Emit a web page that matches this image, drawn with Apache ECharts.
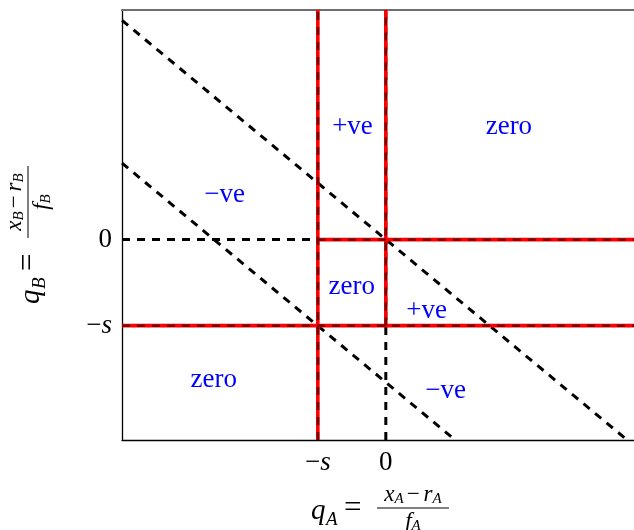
<!DOCTYPE html>
<html>
<head>
<meta charset="utf-8">
<script src="https://cdn.jsdelivr.net/npm/echarts@6/dist/echarts.min.js"></script>
<style>
  html, body { margin: 0; padding: 0; background: #fff; }
  #chart { width: 634px; height: 530px; }
</style>
</head>
<body>
<div id="chart"></div>
<script>
// axis ranges, in units of s
var xRange = [-3.88, 3.65];
var yRange = [-2.33, 2.67];
var tickValues = [-1, 0];
var tickLabels = ["{n|\u2212}{i|s}", "0"];

// black dashed boundaries
var hZero = [[-3.88, 0], [3.65, 0]];
var hMinusS = [[-3.88, -1], [3.65, -1]];
var vZero = [[0, -2.33], [0, 2.67]];
var vMinusS = [[-1, -2.33], [-1, 2.67]];
var diagUpper = [[-3.88, 2.55], [3.55, -2.33]];
var diagLower = [[-3.88, 0.89], [1.02, -2.33]];

// red solid boundaries
var redH0 = [[-1, 0], [3.65, 0]];
var redHS = [[-3.88, -1], [3.65, -1]];
var redV0 = [[0, -1], [0, 2.67]];
var redVS = [[-1, -2.33], [-1, 2.67]];

// region labels
var regionNames = ["+ve", "zero", "\u2212ve", "zero", "+ve", "zero", "\u2212ve"];
var regionX = [-0.49, 1.81, -2.37, -0.5, 0.6, -2.53, 0.88];
var regionY = [1.31, 1.31, 0.52, -0.55, -0.83, -1.63, -1.76];

var SERIF = '"Liberation Serif", "DejaVu Serif", serif';

function redLine(d) {
  return {
    type: "line", data: d, symbol: "none", z: 3, silent: true,
    lineStyle: { color: "#ff0000", width: 3.6 }
  };
}
function redDash(d) {
  return {
    type: "line", data: d, symbol: "none", z: 4, silent: true,
    lineStyle: { color: "#6a0000", width: 2.4, type: [8, 7] }
  };
}
function dashLine(d) {
  return {
    type: "line", data: d, symbol: "none", z: 2, silent: true,
    lineStyle: { color: "#000", width: 3, type: [8, 7] }
  };
}

// builds "q_X = (x_X - r_X) / f_X" as a group, fraction bar at local y = 0
function axisTitle(sub, x, y, rot) {
  var rich = {
    i: { fontFamily: SERIF, fontStyle: "italic", fontSize: 23, fill: "#000" },
    s: { fontFamily: SERIF, fontStyle: "italic", fontSize: 15, fill: "#000", padding: [10, 0, 0, 0] },
    n: { fontFamily: SERIF, fontSize: 23, fill: "#000", padding: [0, 4, 0, 3] }
  };
  return {
    type: "group", x: x, y: y, rotation: rot || 0,
    children: [
      { type: "text", x: 0, y: 3, style: { text: "q", font: "italic 29px " + SERIF, fill: "#000", textAlign: "left", textVerticalAlign: "middle" } },
      { type: "text", x: 15, y: 12, style: { text: sub, font: "italic 19px " + SERIF, fill: "#000", textAlign: "left", textVerticalAlign: "middle" } },
      { type: "text", x: 33, y: 1, style: { text: "=", font: "31px " + SERIF, fill: "#000", textAlign: "left", textVerticalAlign: "middle" } },
      { type: "text", x: 102, y: -1, style: { text: "{i|x}{s|" + sub + "}{n|\u2212}{i|r}{s|" + sub + "}", rich: rich, textAlign: "center", textVerticalAlign: "bottom" } },
      { type: "line", shape: { x1: 66, y1: 0, x2: 138, y2: 0 }, style: { stroke: "#000", lineWidth: 1 } },
      { type: "text", x: 102, y: 1, style: { text: "{i|f}{s|" + sub + "}", rich: rich, textAlign: "center", textVerticalAlign: "top" } }
    ]
  };
}

var chart = echarts.init(document.getElementById("chart"), null, { renderer: "canvas" });

var labelRich = {
  n: { fontFamily: SERIF, fontSize: 27, color: "#000" },
  i: { fontFamily: SERIF, fontSize: 27, fontStyle: "italic", color: "#000" }
};

var option = {
  animation: false,
  backgroundColor: "#fff",
  grid: { left: 122, right: 0, top: 10, bottom: 90 },
  xAxis: [
    {
      type: "value", min: xRange[0], max: xRange[1], position: "bottom",
      splitLine: { show: false }, axisTick: { show: false },
      axisLine: { onZero: false, lineStyle: { color: "#000", width: 1.3 } },
      axisLabel: {
        customValues: tickValues, margin: 9, color: "#000",
        fontFamily: SERIF, fontSize: 27, rich: labelRich,
        formatter: function (v) { return tickLabels[tickValues.indexOf(v)]; }
      }
    },
    {
      type: "value", min: xRange[0], max: xRange[1], position: "top",
      splitLine: { show: false }, axisTick: { show: false }, axisLabel: { show: false },
      axisLine: { onZero: false, lineStyle: { color: "#6e6e6e", width: 2 } }
    }
  ],
  yAxis: {
    type: "value", min: yRange[0], max: yRange[1],
    splitLine: { show: false }, axisTick: { show: false },
    axisLine: { show: true, onZero: false, lineStyle: { color: "#000", width: 1.3 } },
    axisLabel: {
      customValues: tickValues, margin: 10, color: "#000",
      fontFamily: SERIF, fontSize: 27, rich: labelRich,
      formatter: function (v) { return tickLabels[tickValues.indexOf(v)]; }
    }
  },
  series: [
    redLine(redH0), redLine(redHS), redLine(redV0), redLine(redVS),
    redDash(redH0), redDash(redHS), redDash(redV0), redDash(redVS),
    dashLine(hZero), dashLine(hMinusS), dashLine(vZero), dashLine(vMinusS),
    dashLine(diagUpper), dashLine(diagLower),
    {
      type: "scatter", symbolSize: 0, z: 5, silent: true,
      itemStyle: { opacity: 1 },
      data: regionNames.map(function (n, k) { return { name: n, value: [regionX[k], regionY[k]] }; }),
      label: {
        show: true, position: "inside", formatter: "{b}",
        color: "#0000ff", fontFamily: SERIF, fontSize: 27
      }
    }
  ],
  graphic: [
    axisTitle("A", 311, 508, 0),
    axisTitle("B", 28, 304, Math.PI / 2)
  ]
};

chart.setOption(option);
</script>
</body>
</html>
